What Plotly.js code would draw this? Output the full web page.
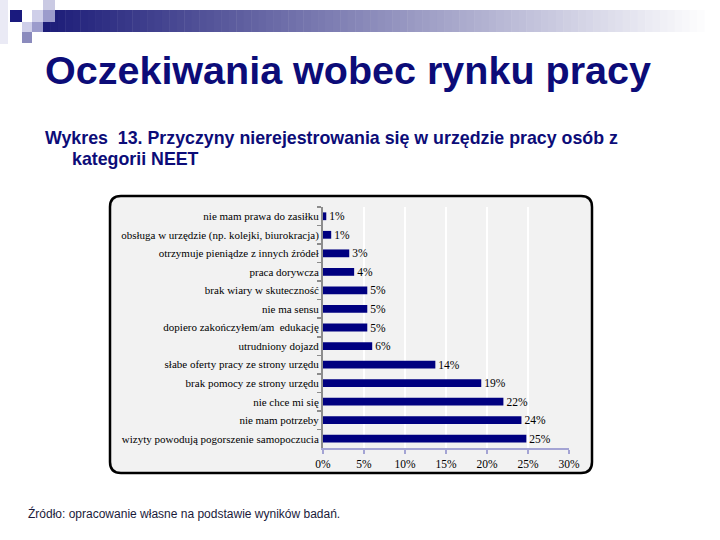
<!DOCTYPE html>
<html>
<head>
<meta charset="utf-8">
<script src="https://cdn.plot.ly/plotly-3.0.1.min.js"></script>
<style>html,body{margin:0;padding:0;background:#fff;}#chart{width:720px;height:540px;}</style>
</head>
<body>
<div id="chart"></div>
<script>
// ---- data ----
var categories = [
  "nie mam prawa do zasiłku",
  "obsługa w urzędzie (np. kolejki, biurokracja)",
  "otrzymuje pieniądze z innych źródeł",
  "praca dorywcza",
  "brak wiary w skuteczność",
  "nie ma sensu",
  "dopiero zakończyłem/am  edukację",
  "utrudniony dojazd",
  "słabe oferty pracy ze strony urzędu",
  "brak pomocy ze strony urzędu",
  "nie chce mi się",
  "nie mam potrzeby",
  "wizyty powodują pogorszenie samopoczucia"
];
var values = [0.4, 1.0, 3.2, 3.8, 5.4, 5.4, 5.4, 6.0, 13.7, 19.3, 22.0, 24.2, 24.8];
var valueLabels = ["1%", "1%", "3%", "4%", "5%", "5%", "5%", "6%", "14%", "19%", "22%", "24%", "25%"];
var xTickVals = [0, 5, 10, 15, 20, 25, 30];
var xTickText = ["0%", "5%", "10%", "15%", "20%", "25%", "30%"];

var titleText = "Oczekiwania wobec rynku pracy";
var subtitle1 = "Wykres  13. Przyczyny nierejestrowania się w urzędzie pracy osób z";
var subtitle2 = "kategorii NEET";
var sourceText = "Źródło: opracowanie własne na podstawie wyników badań.";

// ---- geometry helpers (pixel -> paper) ----
var M = {l: 323, r: 151, t: 207, b: 92};
var PW = 720 - M.l - M.r, PH = 540 - M.t - M.b;
function px(x) { return (x - M.l) / PW; }
function py(y) { return (540 - M.b - y) / PH; }
function pt(x, y) { return px(x).toFixed(5) + "," + py(y).toFixed(5); }

var shapes = [];
function rectPx(x0, y0, x1, y1, color, layer) {
  shapes.push({type: "rect", xref: "paper", yref: "paper",
    x0: px(x0), x1: px(x1), y0: py(y1), y1: py(y0),
    fillcolor: color, line: {width: 0}, layer: layer || "above"});
}

// rounded chart box
(function () {
  var x0 = 110, x1 = 592, y0 = 196, y1 = 473, r = 11;
  var path = "M" + pt(x0 + r, y0) + " L" + pt(x1 - r, y0) + " Q" + pt(x1, y0) + " " + pt(x1, y0 + r) +
    " L" + pt(x1, y1 - r) + " Q" + pt(x1, y1) + " " + pt(x1 - r, y1) +
    " L" + pt(x0 + r, y1) + " Q" + pt(x0, y1) + " " + pt(x0, y1 - r) +
    " L" + pt(x0, y0 + r) + " Q" + pt(x0, y0) + " " + pt(x0 + r, y0) + " Z";
  shapes.push({type: "path", xref: "paper", yref: "paper", path: path,
    fillcolor: "#f2f2f2", line: {color: "#000000", width: 2.5}, layer: "below"});
})();

// decorative gradient bar
(function () {
  var xs = 43, xe = 712, n = 90;
  var c0 = [28, 28, 120], c1 = [255, 255, 255];
  for (var i = 0; i < n; i++) {
    var t = i / (n - 1);
    var c = c0.map(function (v, k) { return Math.round(v + (c1[k] - v) * t); });
    rectPx(xs + (xe - xs) * i / n, 10, xs + (xe - xs) * (i + 1) / n + 0.5, 32,
      "rgb(" + c.join(",") + ")");
  }
})();
// decorative squares
rectPx(0, 0, 8, 44, "#eaeaf5");
rectPx(10, 10, 22, 22, "#1a1a7e");
rectPx(22, 10, 32, 22, "#ffffff");
rectPx(32, 10, 43, 22, "#cfcfe9");
rectPx(43, 0, 55, 10, "#cacae3");
rectPx(43, 10, 55, 22, "#9c9ccc");
rectPx(22, 22, 32, 32, "#cfcfe9");
rectPx(32, 22, 43, 32, "#9c9ccc");
rectPx(22, 32, 32, 43, "#8b8bbd");

var navy = "#0c0c78";
var annotations = [
  {text: titleText, xref: "paper", yref: "paper", x: px(43), y: py(70), xanchor: "left", yanchor: "middle",
   showarrow: false, font: {family: "Liberation Sans, Arial, sans-serif", size: 39.5, color: navy, weight: "bold"}},
  {text: subtitle1, xref: "paper", yref: "paper", x: px(43), y: py(138), xanchor: "left", yanchor: "middle",
   showarrow: false, font: {family: "Liberation Sans, Arial, sans-serif", size: 17.8, color: navy, weight: "bold"}},
  {text: subtitle2, xref: "paper", yref: "paper", x: px(70), y: py(159), xanchor: "left", yanchor: "middle",
   showarrow: false, font: {family: "Liberation Sans, Arial, sans-serif", size: 17.8, color: navy, weight: "bold"}},
  {text: sourceText, xref: "paper", yref: "paper", x: px(26), y: py(513), xanchor: "left", yanchor: "middle",
   showarrow: false, font: {family: "Liberation Sans, Arial, sans-serif", size: 12, color: "#1a1a3a"}}
];

var serif = "Liberation Serif, Times New Roman, serif";
var trace = {
  type: "bar", orientation: "h",
  x: values, y: categories,
  text: valueLabels, textposition: "outside", cliponaxis: false, constraintext: "none",
  textfont: {family: serif, size: 11.5, color: "#000000"},
  marker: {color: "#000080", line: {width: 0}},
  hoverinfo: "skip"
};

var layout = {
  width: 720, height: 540,
  margin: M,
  paper_bgcolor: "#ffffff",
  plot_bgcolor: "#f2f2f2",
  showlegend: false,
  bargap: 0.58,
  uniformtext: {mode: false},
  xaxis: {
    range: [0, 30], tickvals: xTickVals, ticktext: xTickText,
    showgrid: true, gridcolor: "#ffffff", gridwidth: 1.2, zeroline: false,
    showline: true, linecolor: "#a4a4d4", linewidth: 2,
    ticks: "outside", ticklen: 4, tickcolor: "#a4a4d4", tickwidth: 1.5,
    tickfont: {family: serif, size: 11.5, color: "#000000"}, fixedrange: true
  },
  yaxis: {
    type: "category", categoryorder: "array", categoryarray: categories,
    autorange: "reversed", showgrid: false, zeroline: false,
    showline: true, linecolor: "#8c8c8c", linewidth: 2,
    ticks: "outside", ticklen: 4, tickcolor: "#8c8c8c", tickwidth: 1.5, tickson: "boundaries",
    tickfont: {family: serif, size: 11, color: "#000000"}, fixedrange: true
  },
  shapes: shapes,
  annotations: annotations
};

Plotly.newPlot("chart", [trace], layout, {staticPlot: true, displayModeBar: false});
</script>
</body>
</html>
